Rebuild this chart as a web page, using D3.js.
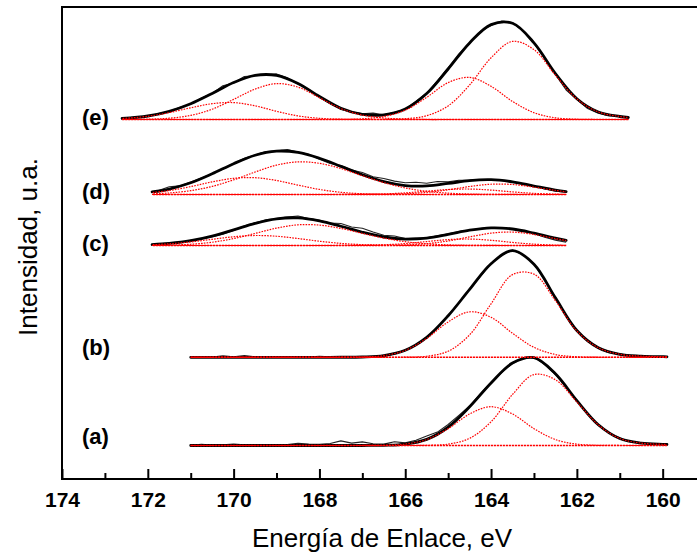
<!DOCTYPE html>
<html><head><meta charset="utf-8">
<script src="https://cdn.jsdelivr.net/npm/d3@7"></script>
<style>html,body{margin:0;padding:0;background:#fff;} svg{display:block;}</style>
</head><body><svg id="chart" width="697" height="559"></svg>
<script>
// ---------------- DATA (binding energy in eV, intensity in arbitrary units) ----------------
const xTicksMajor = [174, 172, 170, 168, 166, 164, 162, 160];
const xTicksMinor = [173, 171, 169, 167, 165, 163, 161];
const spectrumLabels = ["(a)", "(b)", "(c)", "(d)", "(e)"];
const spectrumOffsets = [33.5, 121.7, 233.5, 284.5, 359.5];

// (a) and (b): fitted-component energy grid and raw-data energy grid
const fitEV_ab = [171.0, 170.5, 170.0, 169.5, 169.0, 168.5, 168.0, 167.5, 167.0, 166.5, 166.0, 165.5,
  165.0, 164.5, 164.0, 163.5, 163.0, 162.5, 162.0, 161.5, 161.0, 160.5, 160.0, 159.9];
const rawEV_ab = [171.0, 170.75, 170.5, 170.25, 170.0, 169.75, 169.5, 169.25, 169.0, 168.75, 168.5, 168.25,
  168.0, 167.75, 167.5, 167.25, 167.0, 166.75, 166.5, 166.25, 166.0, 165.75, 165.5, 165.25, 165.0, 164.75,
  164.5, 164.25, 164.0, 163.75, 163.5, 163.25, 163.0, 162.75, 162.5, 162.25, 162.0, 161.75, 161.5, 161.25,
  161.0, 160.75, 160.5, 160.25, 160.0, 159.9];

const aPeak1 = [0, 0, 0, 0, 0, 0, 0, 0, 0, 0, 0.01, 0.18, 1.39, 7.15, 23.72, 50.98, 70.95, 65.72, 43.47, 20.6, 7.0, 2.4, 1.2, 1.0];
const aPeak2 = [0, 0, 0, 0, 0, 0, 0, 0, 0.02, 0.21, 1.38, 5.95, 16.86, 31.5, 38.8, 31.5, 16.86, 5.95, 1.38, 0.21, 0.02, 0, 0, 0];
const aRaw = [0.3, 1.2, 0.4, 0.8, 1.5, 0.6, 0.9, 0.5, 0.7, 1.0, 2.2, 1.4, 1.2, 2.0, 4.6, 2.4, 3.6, 1.8, 1.4, 3.8,
  2.6, 5.2, 9.4, 13.4, 21.0, 30.2, 39.6, 51.8, 63.0, 73.0, 82.0, 87.2, 88.4, 81.0, 71.0, 58.0, 45.4, 31.2, 20.2, 12.6,
  7.4, 3.6, 2.8, 1.2, 1.5, 1.0];

const bPeak1 = [0, 0, 0, 0, 0, 0, 0, 0, 0, 0.01, 0.12, 1.07, 6.09, 22.44, 53.52, 82.68, 83.2, 56.64, 26.24, 9.5, 3.0, 1.2, 0.6, 0.5];
const bPeak2 = [0, 0, 0, 0, 0, 0, 0, 0.03, 0.3, 1.72, 6.9, 18.89, 35.42, 45.48, 39.99, 24.07, 9.92, 2.8, 0.54, 0.07, 0, 0, 0, 0];
const bRaw = [0.0, 0.4, 0.2, 1.5, 0.6, 1.8, 0.5, 0.2, 0.6, 0.3, 0.5, 0.2, 1.0, 0.4, 0.3, 0.6, 0.2, 0.0, 0.8, 3.4,
  7.4, 12.0, 20.4, 29.6, 42.0, 54.6, 68.4, 80.6, 94.0, 102.0, 107.2, 102.6, 93.6, 77.0, 60.0, 41.5, 27.2, 16.0, 9.0, 4.5,
  3.6, 1.6, 1.5, 0.6, 0.8, 0.5];

// (c) and (d)
const fitEV_cd = [171.9, 171.5, 171.0, 170.5, 170.0, 169.5, 169.0, 168.5, 168.0, 167.5, 167.0, 166.5, 166.0,
  165.5, 165.0, 164.5, 164.0, 163.5, 163.0, 162.5, 162.25];
const rawEV_cd = [171.9, 171.75, 171.5, 171.25, 171.0, 170.75, 170.5, 170.25, 170.0, 169.75, 169.5, 169.25,
  169.0, 168.75, 168.5, 168.25, 168.0, 167.75, 167.5, 167.25, 167.0, 166.75, 166.5, 166.25, 166.0, 165.75,
  165.5, 165.25, 165.0, 164.75, 164.5, 164.25, 164.0, 163.75, 163.5, 163.25, 163.0, 162.75, 162.5, 162.25];

const cPeak1 = [0, 0, 0, 0, 0, 0, 0, 0, 0, 0, 0.02, 0.13, 0.55, 1.82, 4.54, 8.61, 12.35, 13.43, 11.05, 6.89, 4.9];
const cPeak2 = [0, 0, 0, 0, 0, 0, 0, 0, 0, 0.04, 0.19, 0.7, 1.94, 3.94, 5.89, 6.46, 5.21, 3.08, 1.34, 0.43, 0.21];
const cPeak3 = [0.14, 0.41, 1.27, 3.26, 6.91, 12.07, 17.39, 20.68, 20.4, 17.08, 12.18, 7.39, 3.81, 1.67, 0.63, 0.2, 0.05, 0, 0, 0, 0];
const cPeak4 = [0.79, 1.68, 3.58, 6.21, 8.73, 9.98, 9.26, 6.98, 4.27, 2.12, 0.85, 0.28, 0.07, 0, 0, 0, 0, 0, 0, 0, 0];
const cRaw = [1.2, 1.6, 2.4, 3.0, 5.2, 6.8, 8.8, 11.2, 15.0, 19.4, 22.8, 25.6, 27.0, 28.4, 29.5, 27.0, 25.2, 22.5, 22.0, 18.5,
  17.2, 13.5, 10.2, 9.5, 7.0, 7.4, 7.8, 9.6, 11.6, 14.0, 15.2, 17.0, 17.8, 17.6, 16.2, 14.8, 12.0, 8.2, 5.4, 3.2];

const dPeak1 = [0, 0, 0, 0, 0, 0, 0, 0, 0, 0, 0.04, 0.18, 0.71, 2.11, 4.72, 8.0, 10.27, 9.99, 7.36, 4.1, 2.76];
const dPeak2 = [0, 0, 0, 0, 0, 0, 0, 0, 0, 0.03, 0.16, 0.59, 1.64, 3.34, 4.98, 5.47, 4.4, 2.61, 1.13, 0.36, 0.18];
const dPeak3 = [0.66, 1.53, 3.82, 8.1, 14.62, 22.45, 29.34, 32.63, 31.16, 25.93, 18.83, 11.91, 6.58, 3.16, 1.33, 0.48, 0.15, 0.04, 0, 0, 0];
const dPeak4 = [1.96, 3.96, 7.88, 12.6, 16.2, 16.8, 13.99, 9.38, 5.06, 2.2, 0.77, 0.22, 0.05, 0, 0, 0, 0, 0, 0, 0, 0];
const dRaw = [2.8, 4.0, 7.8, 8.6, 12.4, 16.5, 20.8, 25.5, 31.0, 36.2, 39.4, 43.0, 43.5, 45.0, 42.5, 40.2, 35.2, 31.0, 29.0, 24.5,
  22.0, 17.8, 16.0, 13.4, 11.8, 12.3, 11.3, 13.0, 12.6, 14.2, 14.4, 14.9, 15.0, 14.0, 12.8, 10.8, 8.6, 5.6, 3.4, 2.6];

// (e)
const fitEV_e = [172.6, 172.0, 171.5, 171.0, 170.5, 170.0, 169.5, 169.0, 168.5, 168.0, 167.5, 167.0, 166.5,
  166.0, 165.5, 165.0, 164.5, 164.0, 163.5, 163.0, 162.5, 162.0, 161.5, 161.0, 160.8];
const rawEV_e = [172.6, 172.25, 172.0, 171.75, 171.5, 171.25, 171.0, 170.75, 170.5, 170.25, 170.0, 169.75,
  169.5, 169.25, 169.0, 168.75, 168.5, 168.25, 168.0, 167.75, 167.5, 167.25, 167.0, 166.75, 166.5, 166.25,
  166.0, 165.75, 165.5, 165.25, 165.0, 164.75, 164.5, 164.25, 164.0, 163.75, 163.5, 163.25, 163.0, 162.75,
  162.5, 162.25, 162.0, 161.75, 161.5, 161.25, 161.0, 160.8];

const ePeak1 = [0, 0, 0, 0, 0, 0, 0, 0, 0, 0, 0, 0, 0.1, 0.8, 3.8, 13.6, 34.5, 61.7, 78.1, 69.9, 44.3, 20.5, 7.5, 3.0, 2.0];
const ePeak2 = [0, 0, 0, 0, 0, 0, 0, 0, 0, 0, 0.1, 0.7, 3.0, 9.3, 22.2, 36.9, 42.1, 33.2, 18.1, 6.8, 1.7, 0.3, 0, 0, 0];
const ePeak3 = [0, 0.3, 1.3, 4.1, 10.3, 20.1, 30.4, 35.9, 32.4, 21.8, 10.9, 4.4, 1.5, 0.4, 0, 0, 0, 0, 0, 0, 0, 0, 0, 0, 0];
const ePeak4 = [1.0, 3.2, 6.9, 11.7, 15.8, 16.9, 13.7, 8.2, 3.6, 1.2, 0.3, 0, 0, 0, 0, 0, 0, 0, 0, 0, 0, 0, 0, 0, 0];
const eRaw = [1.0, 2.6, 3.2, 5.9, 8.0, 12.3, 15.4, 21.5, 26.0, 33.8, 36.5, 43.0, 43.8, 44.5, 45.6, 41.8, 35.6, 30.2, 22.4, 15.8,
  10.0, 7.6, 5.6, 6.4, 4.6, 7.2, 10.3, 18.2, 26.5, 38.8, 51.8, 65.6, 76.0, 88.0, 94.0, 98.5, 96.8, 88.4, 76.2, 61.0,
  45.0, 29.5, 20.2, 11.0, 6.2, 3.6, 3.2, 1.8];

// table built from the arrays above
const spectra = [
  { label: spectrumLabels[0], offset: spectrumOffsets[0], fitEV: fitEV_ab, peaks: [aPeak1, aPeak2], rawEV: rawEV_ab, raw: aRaw },
  { label: spectrumLabels[1], offset: spectrumOffsets[1], fitEV: fitEV_ab, peaks: [bPeak1, bPeak2], rawEV: rawEV_ab, raw: bRaw },
  { label: spectrumLabels[2], offset: spectrumOffsets[2], fitEV: fitEV_cd, peaks: [cPeak1, cPeak2, cPeak3, cPeak4], rawEV: rawEV_cd, raw: cRaw },
  { label: spectrumLabels[3], offset: spectrumOffsets[3], fitEV: fitEV_cd, peaks: [dPeak1, dPeak2, dPeak3, dPeak4], rawEV: rawEV_cd, raw: dRaw },
  { label: spectrumLabels[4], offset: spectrumOffsets[4], fitEV: fitEV_e, peaks: [ePeak1, ePeak2, ePeak3, ePeak4], rawEV: rawEV_e, raw: eRaw }
];

// ---------------- LAYOUT ----------------
const W = 697, H = 559;
const plot = { left: 62, top: 7, right: 697, bottom: 479 };
const labelDy = [-1.8, -2.1, 5.5, 4.2, 5.5];
const FONT = "'Liberation Sans', Arial, Helvetica, sans-serif";
const RED = "#ff0000";

const svg = d3.select("#chart");
svg.append("rect").attr("width", W).attr("height", H).attr("fill", "#fff");

const x = d3.scaleLinear().domain([174, 159.2]).range([plot.left, plot.right]);
const y = d3.scaleLinear().domain([0, plot.bottom - plot.top]).range([plot.bottom, plot.top]);

const smooth = d3.line().curve(d3.curveCatmullRom.alpha(0.5));
const straight = d3.line();

const g = svg.append("g");

spectra.forEach((s, k) => {
  const env = s.fitEV.map((E, i) => d3.sum(s.peaks, p => p[i]));
  // raw data
  g.append("path")
    .attr("d", straight(s.rawEV.map((E, i) => [x(E), y(s.offset + s.raw[i])])))
    .attr("fill", "none").attr("stroke", "#222").attr("stroke-width", 1.1)
    .attr("stroke-linejoin", "round");
  // envelope (sum of fitted components)
  g.append("path")
    .attr("d", smooth(s.fitEV.map((E, i) => [x(E), y(s.offset + env[i])])))
    .attr("fill", "none").attr("stroke", "#000").attr("stroke-width", 2.8)
    .attr("stroke-linejoin", "round").attr("stroke-linecap", "round");
  // fitted components
  s.peaks.forEach((p, j) => {
    g.append("path")
      .attr("d", smooth(s.fitEV.map((E, i) => [x(E), y(s.offset + Math.max(0, p[i]))])))
      .attr("fill", "none").attr("stroke", RED).attr("stroke-width", 1.2)
      .attr("stroke-dasharray", "1.6,1.2").attr("stroke-dashoffset", j * 0.7);
  });
  // background line (on top)
  const ends = d3.extent(s.fitEV);
  g.append("path")
    .attr("d", straight(ends.map(E => [x(E), y(s.offset)])))
    .attr("fill", "none").attr("stroke", RED).attr("stroke-width", 1.6)
    .attr("stroke-dasharray", "2.2,0.8");
  // label
  svg.append("text")
    .attr("x", 82).attr("y", y(s.offset) + labelDy[k])
    .attr("font-family", FONT).attr("font-weight", "bold").attr("font-size", 22)
    .attr("fill", "#000").text(s.label);
});

// ---------------- AXES ----------------
const axMajor = d3.axisBottom(x).tickValues(xTicksMajor).tickSize(-10).tickSizeOuter(0)
  .tickPadding(13).tickFormat(d3.format("d"));
const gx = svg.append("g").attr("transform", `translate(0,${plot.bottom})`).call(axMajor);
gx.select(".domain").attr("stroke", "#000").attr("stroke-width", 2).attr("d", `M${plot.left},0H${W + 5}`);
gx.selectAll(".tick line").attr("stroke", "#000").attr("stroke-width", 2);
gx.selectAll(".tick text").attr("font-family", FONT).attr("font-weight", "bold")
  .attr("font-size", 21).attr("fill", "#000");

const axMinor = d3.axisBottom(x).tickValues(xTicksMinor).tickSize(-6).tickSizeOuter(0).tickFormat("");
const gxm = svg.append("g").attr("transform", `translate(0,${plot.bottom})`).call(axMinor);
gxm.select(".domain").remove();
gxm.selectAll(".tick line").attr("stroke", "#000").attr("stroke-width", 2);

// left axis line and top frame line
svg.append("line").attr("x1", plot.left).attr("x2", plot.left).attr("y1", plot.top - 1).attr("y2", plot.bottom + 1)
  .attr("stroke", "#000").attr("stroke-width", 2);
svg.append("line").attr("x1", plot.left - 1).attr("x2", W + 5).attr("y1", plot.top).attr("y2", plot.top)
  .attr("stroke", "#000").attr("stroke-width", 2);

// axis titles
svg.append("text").attr("x", 382).attr("y", 547).attr("text-anchor", "middle")
  .attr("font-family", FONT).attr("font-size", 26).attr("fill", "#000")
  .text("Energía de Enlace, eV");
svg.append("text").attr("transform", "translate(37,247) rotate(-90)").attr("text-anchor", "middle")
  .attr("font-family", FONT).attr("font-size", 26).attr("fill", "#000")
  .text("Intensidad, u.a.");
</script></body></html>
